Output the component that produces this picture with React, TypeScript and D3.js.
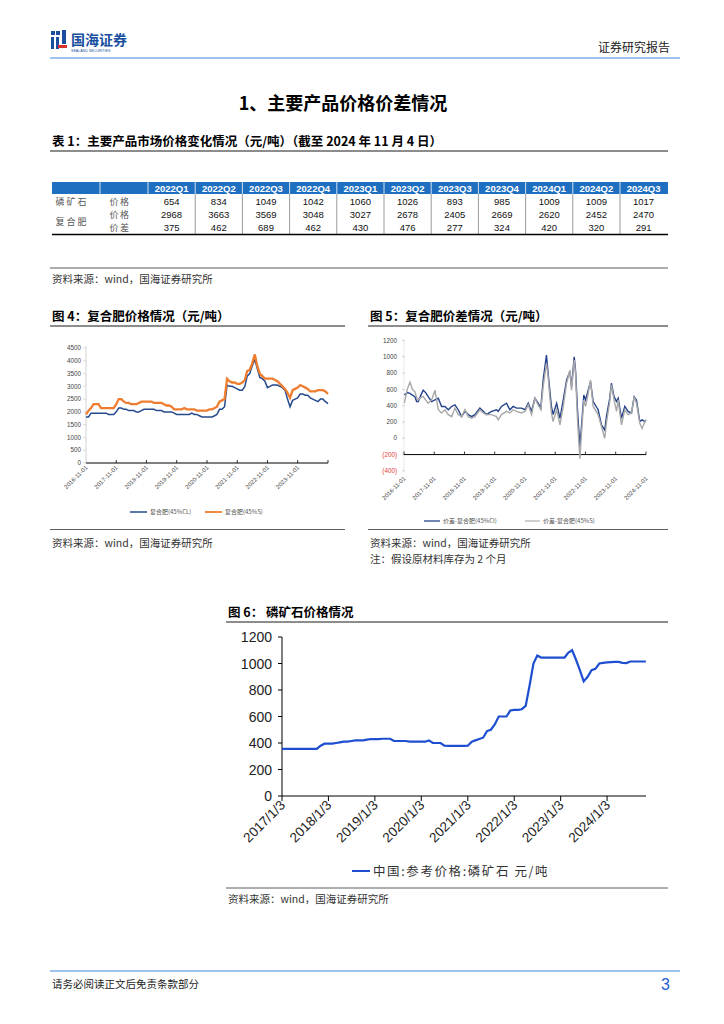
import React from "react";
import * as d3 from "d3";

// ---------- Table data ----------
const tableQuarters = ["2022Q1","2022Q2","2022Q3","2022Q4","2023Q1","2023Q2","2023Q3","2023Q4","2024Q1","2024Q2","2024Q3"];
const phosRockPrice = [654,834,1049,1042,1060,1026,893,985,1009,1009,1017];
const compoundPrice = [2968,3663,3569,3048,3027,2678,2405,2669,2620,2452,2470];
const compoundSpread = [375,462,689,462,430,476,277,324,420,320,291];

// ---------- Fig 4: compound fertilizer price, monthly from 2016-11 ----------
const fig4StartMonth = "2016-11-01";
const fig4CL = [
  1800,1800,
  1950,1950,1950,1950,1950,1950,1950,1900,1900,1900,2000,2150,
  2150,2100,2100,2050,2050,2050,2000,2000,2050,2100,2100,2100,
  2100,2100,2050,2050,2050,2000,2000,2000,2000,1950,1900,1900,
  1900,1900,1900,1900,1950,1900,1900,1850,1800,1800,1800,1800,
  1800,1850,1900,2100,2100,2200,3050,3000,3000,2950,2900,2850,
  2850,3000,3400,3500,3800,4050,3700,3350,3300,3200,2950,3000,
  3050,3050,3050,3000,2950,2850,2500,2200,2450,2500,2550,2700,
  2700,2650,2650,2550,2500,2450,2400,2500,2500,2400,2320
];
const fig4S = [
  1900,2050,
  2150,2300,2300,2300,2150,2150,2150,2150,2150,2150,2300,2500,
  2500,2400,2350,2350,2300,2300,2300,2350,2400,2400,2400,2400,
  2400,2350,2350,2350,2350,2300,2250,2250,2200,2100,2100,2100,
  2100,2150,2100,2100,2100,2100,2050,2050,2050,2050,2050,2100,
  2100,2150,2200,2400,2450,2500,3300,3200,3150,3150,3100,3100,
  3150,3250,3600,3650,3900,4250,3800,3500,3400,3300,3300,3300,
  3300,3250,3200,3100,3000,2900,2750,2550,2850,2900,2950,3050,
  3000,2950,2900,2800,2800,2800,2850,2850,2850,2800,2700
];
const fig4YTicks = [0,500,1000,1500,2000,2500,3000,3500,4000,4500];
const fig4XLabels = ["2016-11-01","2017-11-01","2018-11-01","2019-11-01","2020-11-01","2021-11-01","2022-11-01","2023-11-01"];
const fig4XTicks = ["2017-11-01","2018-11-01","2019-11-01","2020-11-01","2021-11-01","2022-11-01","2023-11-01","2024-11-01"];
const fig4Legend = ["复合肥(45%CL)","复合肥(45%S)"];

// ---------- Fig 5: spread ----------
const fig5Dates = ["2016-11-05","2016-12-10","2017-01-12","2017-02-10","2017-03-13","2017-04-02","2017-04-22","2017-05-20","2017-06-21","2017-07-20","2017-08-20","2017-09-30","2017-11-10","2017-12-20","2018-01-29","2018-03-10","2018-04-20","2018-05-30","2018-07-09","2018-08-18","2018-09-27","2018-11-07","2018-12-17","2019-01-26","2019-03-07","2019-05-06","2019-06-15","2019-07-25","2019-09-24","2019-11-23","2019-12-13","2020-01-22","2020-03-23","2020-05-02","2020-06-11","2020-07-21","2020-09-20","2020-11-01","2020-12-10","2021-01-19","2021-02-28","2021-04-09","2021-05-11","2021-06-08","2021-07-18","2021-08-07","2021-08-27","2021-09-16","2021-10-06","2021-11-18","2021-12-28","2022-02-06","2022-03-18","2022-04-27","2022-05-17","2022-06-18","2022-07-04","2022-07-28","2022-08-25","2022-09-14","2022-10-12","2022-11-03","2022-12-04","2023-01-01","2023-02-02","2023-04-03","2023-05-13","2023-06-22","2023-07-12","2023-08-21","2023-09-10","2023-10-12","2023-11-11","2023-12-01","2024-01-10","2024-02-19","2024-03-30","2024-05-10","2024-06-11","2024-07-09","2024-08-18","2024-09-15","2024-10-18","2024-11-01"];
const fig5CL = [530,560,550,530,510,450,450,520,590,560,510,450,470,490,390,390,350,390,410,350,265,330,290,265,290,370,330,290,330,350,330,390,430,350,390,370,370,350,430,330,490,430,370,715,1020,800,590,390,290,430,245,470,715,820,630,1000,835,350,-100,145,530,470,590,695,450,350,165,100,265,490,675,510,450,490,245,390,330,310,510,470,205,225,205,220];
const fig5S = [430,600,690,600,570,500,470,500,510,470,430,470,590,350,310,350,290,265,370,290,265,350,265,245,265,350,310,290,290,265,225,290,330,310,350,330,310,330,410,290,490,410,350,630,920,760,510,310,205,350,165,390,675,835,590,960,800,225,-250,60,470,390,550,715,390,290,145,0,185,450,655,470,330,470,165,350,290,310,510,430,185,120,205,230];
const fig5YTicks = [1200,1000,800,600,400,200,0,-200,-400];
const fig5XLabels = ["2016-11-01","2017-11-01","2018-11-01","2019-11-01","2020-11-01","2021-11-01","2022-11-01","2023-11-01","2024-11-01"];
const fig5Legend = ["价差-复合肥(45%Cl)","价差-复合肥(45%S)"];

// ---------- Fig 6: phosphate rock, monthly from 2017-01 ----------
const fig6StartMonth = "2017-01-03";
const fig6Price = [
  355,355,355,355,355,355,355,355,355,355,380,395,
  395,395,400,405,410,410,415,420,420,420,425,430,
  430,430,432,432,432,415,415,415,415,410,410,410,
  410,410,420,400,400,400,380,378,378,378,378,378,
  380,410,420,430,440,490,500,540,600,600,600,645,
  650,650,655,680,830,1000,1060,1045,1045,1045,1045,1045,
  1045,1045,1080,1100,1030,950,865,900,950,960,1000,1005,
  1008,1010,1012,1012,1005,1003,1015,1015,1015,1015,1015
];
const fig6YTicks = [0,200,400,600,800,1000,1200];
const fig6XLabels = ["2017/1/3","2018/1/3","2019/1/3","2020/1/3","2021/1/3","2022/1/3","2023/1/3","2024/1/3"];
const fig6Legend = "中国:参考价格:磷矿石  元/吨";

const CJK = "'Noto Sans CJK SC', 'Noto Sans', sans-serif";
const NUM = "'Liberation Sans', Arial, sans-serif";
const parse = d3.timeParse("%Y-%m-%d");
const parseSlash = (s: string) => { const [y, m, d] = s.split("/").map(Number); return new Date(y, m - 1, d); };

function Fig4() {
  const start = parse(fig4StartMonth)!;
  const x = d3.scaleTime().domain([parse("2016-11-01")!, parse("2024-11-01")!]).range([86, 328]);
  const y = d3.scaleLinear().domain([0, 4500]).range([463, 348]);
  const dates = fig4CL.map((_, i) => d3.timeMonth.offset(start, i));
  const line = d3.line<number>().x((_, i) => x(dates[i])).y((d) => y(d));
  return (
    <g>
      <line x1={86} x2={86} y1={346} y2={463} stroke="#c8c8c8" strokeWidth={0.8} />
      {fig4YTicks.map((t) => (
        <g key={t}>
          <line x1={83} x2={86} y1={y(t)} y2={y(t)} stroke="#c8c8c8" strokeWidth={0.6} />
          <text x={81} y={y(t) + 2.2} textAnchor="end" fontSize={6.3} fill="#444" fontFamily={NUM}>{t}</text>
        </g>
      ))}
      <line x1={86} x2={328} y1={463} y2={463} stroke="#000" strokeWidth={1} />
      {fig4XTicks.map((t) => (
        <line key={t} x1={x(parse(t)!)} x2={x(parse(t)!)} y1={460} y2={463} stroke="#000" strokeWidth={0.8} />
      ))}
      {fig4XLabels.map((t) => (
        <text key={t} transform={`translate(${x(parse(t)!) + 2},${468}) rotate(-45)`} textAnchor="end" fontSize={6} fill="#444" fontFamily={NUM}>{t}</text>
      ))}
      <path d={line(fig4CL) || ""} fill="none" stroke="#264a8c" strokeWidth={1.5} />
      <path d={line(fig4S) || ""} fill="none" stroke="#ee7d2f" strokeWidth={2.3} />
      <line x1={130} x2={147} y1={512} y2={512} stroke="#264a8c" strokeWidth={1.5} />
      <text x={150} y={514.2} fontSize={6} fill="#555" fontFamily={CJK}>{fig4Legend[0]}</text>
      <line x1={205} x2={222} y1={512} y2={512} stroke="#ee7d2f" strokeWidth={1.8} />
      <text x={225} y={514.2} fontSize={6} fill="#555" fontFamily={CJK}>{fig4Legend[1]}</text>
    </g>
  );
}

function Fig5() {
  const x = d3.scaleTime().domain([parse("2016-11-01")!, parse("2024-11-01")!]).range([404, 646]);
  const y = d3.scaleLinear().domain([-400, 1200]).range([470.9, 340.4]);
  const dates = fig5Dates.map((d) => parse(d)!);
  const line = d3.line<number>().x((_, i) => x(dates[i])).y((d) => y(d));
  const fmt = (v: number) => (v < 0 ? `(${-v})` : `${v}`);
  return (
    <g>
      <line x1={404} x2={404} y1={340} y2={471} stroke="#dcdcdc" strokeWidth={0.6} />
      {fig5YTicks.map((t) => (
        <g key={t}>
          <line x1={402} x2={405} y1={y(t)} y2={y(t)} stroke="#bbb" strokeWidth={0.6} />
          <text x={397} y={y(t) + 2.2} textAnchor="end" fontSize={6.3} fill={t < 0 ? "#e23b3b" : "#444"} fontFamily={NUM}>{fmt(t)}</text>
        </g>
      ))}
      <line x1={404} x2={646} y1={y(-200)} y2={y(-200)} stroke="#000" strokeWidth={1} />
      {fig5XLabels.map((t) => (
        <line key={"t" + t} x1={x(parse(t)!)} x2={x(parse(t)!)} y1={y(-200) - 3} y2={y(-200)} stroke="#000" strokeWidth={0.8} />
      ))}
      {fig5XLabels.map((t) => (
        <text key={t} transform={`translate(${x(parse(t)!) + 2},${479}) rotate(-45)`} textAnchor="end" fontSize={6} fill="#444" fontFamily={NUM}>{t}</text>
      ))}
      <path d={line(fig5CL) || ""} fill="none" stroke="#23428a" strokeWidth={1.4} />
      <path d={line(fig5S) || ""} fill="none" stroke="#a8a8a8" strokeWidth={1.4} />
      <line x1={424} x2={440} y1={521} y2={521} stroke="#23428a" strokeWidth={1.3} />
      <text x={443} y={523.2} fontSize={6} fill="#555" fontFamily={CJK}>{fig5Legend[0]}</text>
      <line x1={525} x2={540} y1={521} y2={521} stroke="#a8a8a8" strokeWidth={1.1} />
      <text x={543} y={523.2} fontSize={6} fill="#555" fontFamily={CJK}>{fig5Legend[1]}</text>
    </g>
  );
}

function Fig6() {
  const start = parse(fig6StartMonth)!;
  const x = d3.scaleTime().domain([parse("2017-01-03")!, parse("2024-11-04")!]).range([282, 646]);
  const y = d3.scaleLinear().domain([0, 1200]).range([796, 637]);
  const dates = fig6Price.map((_, i) => d3.timeMonth.offset(start, i));
  const line = d3.line<number>().x((_, i) => x(dates[i])).y((d) => y(d));
  return (
    <g>
      <line x1={282} x2={282} y1={637} y2={796} stroke="#000" strokeWidth={1} />
      {fig6YTicks.map((t) => (
        <g key={t}>
          <line x1={278} x2={282} y1={y(t)} y2={y(t)} stroke="#000" strokeWidth={1} />
          <text x={272} y={y(t) + 5} textAnchor="end" fontSize={14} fill="#222" fontFamily={NUM}>{t}</text>
        </g>
      ))}
      <line x1={282} x2={646} y1={796} y2={796} stroke="#000" strokeWidth={1} />
      {fig6XLabels.map((t) => (
        <line key={"t" + t} x1={x(parseSlash(t))} x2={x(parseSlash(t))} y1={796} y2={801} stroke="#000" strokeWidth={1} />
      ))}
      {fig6XLabels.map((t) => (
        <text key={t} transform={`translate(${x(parseSlash(t)) + 4},${806}) rotate(-45)`} textAnchor="end" fontSize={13.5} fill="#222" fontFamily={NUM}>{t}</text>
      ))}
      <path d={line(fig6Price) || ""} fill="none" stroke="#1f4fd1" strokeWidth={2.2} />
      <line x1={352} x2={370} y1={871} y2={871} stroke="#1f4fd1" strokeWidth={2} />
      <text x={373} y={875.5} fontSize={12.5} letterSpacing={1.6} fill="#333" fontFamily={CJK}>{fig6Legend}</text>
    </g>
  );
}

function Table() {
  const x0 = 148, cw = 47.2, left = 52, right = 668;
  const rows = [phosRockPrice, compoundPrice, compoundSpread];
  const rowY = [201.5, 214.8, 228];
  return (
    <g>
      <rect x={left} y={182} width={right - left} height={12} fill="#1f6fc1" />
      {tableQuarters.map((q, i) => (
        <g key={q}>
          <line x1={x0 + i * cw} x2={x0 + i * cw} y1={182} y2={194} stroke="#fff" strokeWidth={0.8} />
          <text x={x0 + i * cw + cw / 2} y={191.6} textAnchor="middle" fontSize={9.5} fill="#fff" fontWeight="bold" fontFamily={NUM}>{q}</text>
        </g>
      ))}
      <line x1={100} x2={100} y1={182} y2={194} stroke="#fff" strokeWidth={0.8} />
      {tableQuarters.slice(1).map((q, i) => (
        <line key={"v" + q} x1={x0 + (i + 1) * cw} x2={x0 + (i + 1) * cw} y1={194} y2={234} stroke="#555" strokeWidth={0.6} />
      ))}
      {rows.map((r, ri) =>
        r.map((v, i) => (
          <text key={ri + "-" + i} x={x0 + i * cw + cw / 2} y={rowY[ri] + 3.3} textAnchor="middle" fontSize={9.5} fill="#111" fontFamily={NUM}>{v}</text>
        ))
      )}
      <text x={72} y={rowY[0] + 3.3} textAnchor="middle" fontSize={9} letterSpacing={2} fill="#555" fontFamily={CJK}>磷矿石</text>
      <text x={120} y={rowY[0] + 3.3} textAnchor="middle" fontSize={9} letterSpacing={1.5} fill="#555" fontFamily={CJK}>价格</text>
      <text x={72} y={222 + 3.3} textAnchor="middle" fontSize={9} letterSpacing={2} fill="#555" fontFamily={CJK}>复合肥</text>
      <text x={120} y={rowY[1] + 3.3} textAnchor="middle" fontSize={9} letterSpacing={1.5} fill="#555" fontFamily={CJK}>价格</text>
      <text x={120} y={rowY[2] + 3.3} textAnchor="middle" fontSize={9} letterSpacing={1.5} fill="#555" fontFamily={CJK}>价差</text>
      <line x1={left} x2={right} y1={234.5} y2={234.5} stroke="#000" strokeWidth={1.6} />
    </g>
  );
}

export default function App() {
  return (
    <svg width={724} height={1024} viewBox="0 0 724 1024" style={{ position: "absolute", left: 0, top: 0, background: "#fff" }}>
      <rect width={724} height={1024} fill="#fff" />
      {/* header */}
      <rect x={51} y={31} width={4} height={4} fill="#1a4fa0" />
      <rect x={56} y={31} width={4} height={4} fill="#1a4fa0" />
      <rect x={51} y={37} width={3} height={12} fill="#1a4fa0" />
      <rect x={56} y={37} width={3} height={12} fill="#1a4fa0" />
      <rect x={62} y={30} width={4} height={14} fill="#1a4fa0" />
      <rect x={58} y={45} width={9} height={3} fill="#d9302c" />
      <text x={71} y={45} fontSize={14} fontWeight="bold" fill="#1a4fa0" fontFamily={CJK}>国海证券</text>
      <text x={71} y={51.5} fontSize={3.6} fill="#1a4fa0" fontFamily={NUM}>SEALAND SECURITIES</text>
      <text x={670} y={52} textAnchor="end" fontSize={12} fill="#222" fontFamily={CJK}>证券研究报告</text>
      <line x1={50} x2={680} y1={58} y2={58} stroke="#9ec3ee" strokeWidth={2} />

      {/* title */}
      <text x={343} y={110} textAnchor="middle" fontSize={18} fontWeight="bold" fill="#000" fontFamily={CJK}>1、主要产品价格价差情况</text>

      <text x={52} y={146} fontSize={12.5} fontWeight="bold" fill="#000" fontFamily={CJK}>表 1：主要产品市场价格变化情况（元/吨）（截至 2024 年 11 月 4 日）</text>
      <line x1={50} x2={668} y1={151} y2={151} stroke="#8c8c8c" strokeWidth={2} />

      <Table />

      <line x1={50} x2={668} y1={268} y2={268} stroke="#333" strokeWidth={0.8} />
      <text x={52} y={283} fontSize={10.5} fill="#333" fontFamily={CJK}>资料来源：wind，国海证券研究所</text>

      {/* fig titles */}
      <text x={52} y={321} fontSize={12.5} fontWeight="bold" fill="#000" fontFamily={CJK}>图 4：复合肥价格情况（元/吨）</text>
      <line x1={50} x2={345} y1={326} y2={326} stroke="#8c8c8c" strokeWidth={2} />
      <text x={370} y={321} fontSize={12.5} fontWeight="bold" fill="#000" fontFamily={CJK}>图 5：复合肥价差情况（元/吨）</text>
      <line x1={368} x2={668} y1={326} y2={326} stroke="#8c8c8c" strokeWidth={2} />

      <Fig4 />
      <Fig5 />

      <line x1={50} x2={345} y1={529.5} y2={529.5} stroke="#333" strokeWidth={0.8} />
      <line x1={368} x2={668} y1={529.5} y2={529.5} stroke="#333" strokeWidth={0.8} />
      <text x={52} y={547} fontSize={10.5} fill="#333" fontFamily={CJK}>资料来源：wind，国海证券研究所</text>
      <text x={370} y={547} fontSize={10.5} fill="#333" fontFamily={CJK}>资料来源：wind，国海证券研究所</text>
      <text x={370} y={563} fontSize={10.5} fill="#333" fontFamily={CJK}>注：假设原材料库存为 2 个月</text>

      {/* fig 6 */}
      <text x={228} y={617} fontSize={12.5} fontWeight="bold" fill="#000" fontFamily={CJK}>图 6：   磷矿石价格情况</text>
      <line x1={226} x2={668} y1={622} y2={622} stroke="#8c8c8c" strokeWidth={2} />
      <Fig6 />
      <line x1={226} x2={668} y1={888} y2={888} stroke="#333" strokeWidth={0.8} />
      <text x={228} y={903} fontSize={10.5} fill="#333" fontFamily={CJK}>资料来源：wind，国海证券研究所</text>

      {/* footer */}
      <line x1={50} x2={680} y1={971} y2={971} stroke="#9ec3ee" strokeWidth={2} />
      <text x={52} y={988} fontSize={10.5} fill="#222" fontFamily={CJK}>请务必阅读正文后免责条款部分</text>
      <text x={670} y={990} textAnchor="end" fontSize={16} fill="#1f5fd0" fontFamily={NUM}>3</text>
    </svg>
  );
}
